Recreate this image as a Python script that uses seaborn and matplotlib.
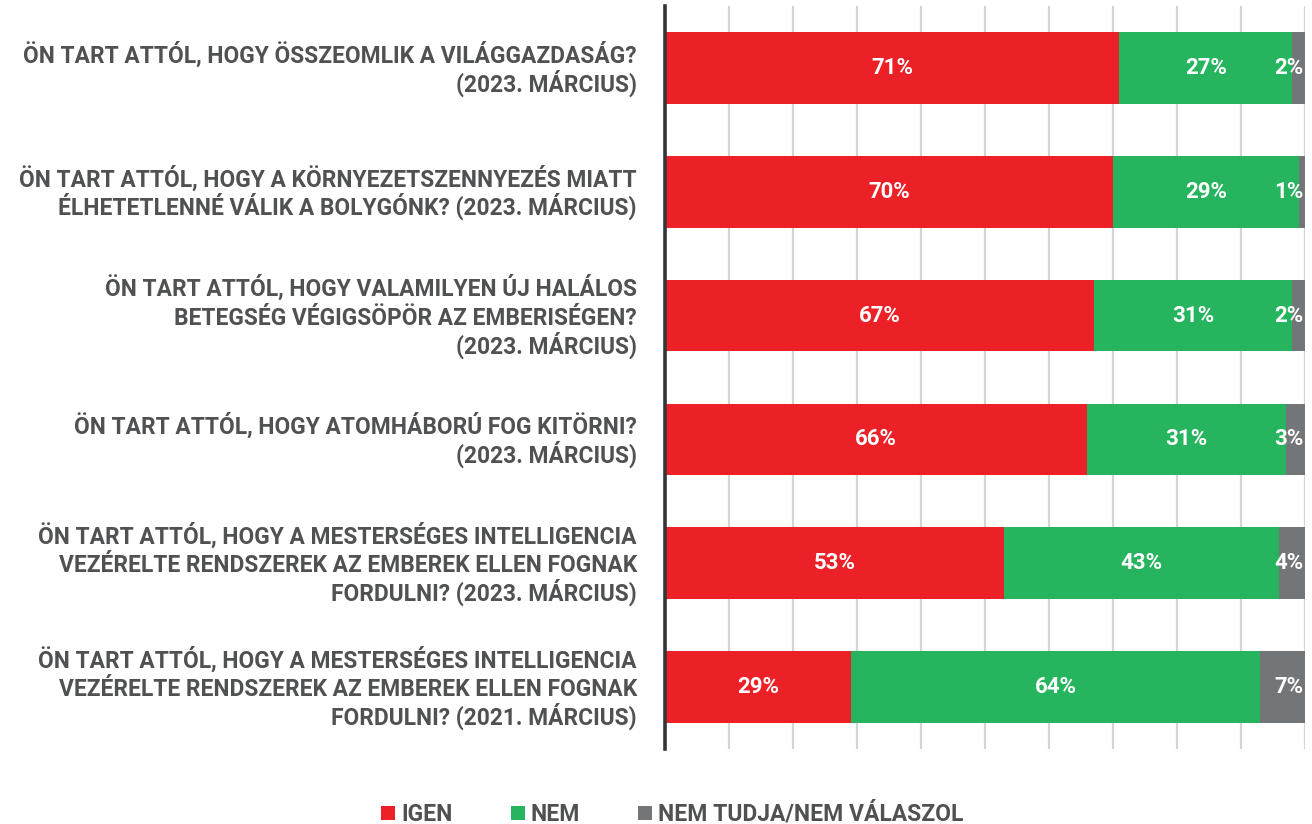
import matplotlib
matplotlib.use("Agg")
import matplotlib.pyplot as plt
import matplotlib.transforms as mtransforms
import seaborn as sns
import pandas as pd
import numpy as np
from matplotlib.patches import Patch

questions = [
    "ÖN TART ATTÓL, HOGY ÖSSZEOMLIK A VILÁGGAZDASÁG?\n(2023. MÁRCIUS)",
    "ÖN TART ATTÓL, HOGY A KÖRNYEZETSZENNYEZÉS MIATT\nÉLHETETLENNÉ VÁLIK A BOLYGÓNK? (2023. MÁRCIUS)",
    "ÖN TART ATTÓL, HOGY VALAMILYEN ÚJ HALÁLOS\nBETEGSÉG VÉGIGSÖPÖR AZ EMBERISÉGEN?\n(2023. MÁRCIUS)",
    "ÖN TART ATTÓL, HOGY ATOMHÁBORÚ FOG KITÖRNI?\n(2023. MÁRCIUS)",
    "ÖN TART ATTÓL, HOGY A MESTERSÉGES INTELLIGENCIA\nVEZÉRELTE RENDSZEREK AZ EMBEREK ELLEN FOGNAK\nFORDULNI? (2023. MÁRCIUS)",
    "ÖN TART ATTÓL, HOGY A MESTERSÉGES INTELLIGENCIA\nVEZÉRELTE RENDSZEREK AZ EMBEREK ELLEN FOGNAK\nFORDULNI? (2021. MÁRCIUS)",
]
igen = [71, 70, 67, 66, 53, 29]
nem = [27, 29, 31, 31, 43, 64]
nem_tudja = [2, 1, 2, 3, 4, 7]
series_names = ["IGEN", "NEM", "NEM TUDJA/NEM VÁLASZOL"]

RED = "#EC2027"
GREEN = "#27B45E"
GRAY = "#737679"
TEXT = "#4F5152"

sns.set_theme(style="white")
plt.rcParams["font.family"] = ["Roboto", "DejaVu Sans"]

df = pd.DataFrame({
    "q": questions,
    "igen": igen,
    "nem": nem,
    "nt": nem_tudja,
})
df["c1"] = df["igen"]
df["c2"] = df["igen"] + df["nem"]
df["c3"] = df["c2"] + df["nt"]

DPI = 100
fig = plt.figure(figsize=(13.12, 8.24), dpi=DPI)
ax = fig.add_axes([665 / 1312, 1 - 749 / 824, 640 / 1312, 743 / 824])

# stacked bars drawn as overlapping cumulative totals
for col, color in [("c3", GRAY), ("c2", GREEN), ("c1", RED)]:
    sns.barplot(data=df, x=col, y="q", orient="h", color=color, width=0.58,
                saturation=1, ax=ax, zorder=3, linewidth=0)

ax.set_xlim(0, 100)
ax.set_ylim(5.5, -0.5)
ax.set_xlabel("")
ax.set_ylabel("")
ax.set_xticks(np.arange(0, 101, 10))
ax.xaxis.grid(True, color="#D4D4D4", linewidth=1.6, zorder=0)
ax.yaxis.grid(False)
ax.tick_params(axis="x", length=0, labelbottom=False)
ax.tick_params(axis="y", length=0, labelleft=False)
for s in ["top", "right", "bottom"]:
    ax.spines[s].set_visible(False)
ax.spines["left"].set_color("#333638")
ax.spines["left"].set_linewidth(2.6)
ax.spines["left"].set_zorder(5)

# category labels: one text per line so the line pitch stays even
LABEL_SIZE = 16.4
line_pitch = 28.5          # px between lines
cap_half = 0.711 * LABEL_SIZE * DPI / 72 / 2
for i, q in enumerate(questions):
    lines = q.split("\n")
    n = len(lines)
    for k, line in enumerate(lines):
        dy = -((k - (n - 1) / 2) * line_pitch + 1 + cap_half)
        tr = ax.get_yaxis_transform() + mtransforms.ScaledTranslation(
            -28 / DPI, dy / DPI, fig.dpi_scale_trans)
        ax.text(0, i, line, transform=tr, ha="right", va="baseline",
                fontsize=LABEL_SIZE, fontweight="bold", color=TEXT)

val_font = dict(color="white", fontsize=16, fontweight="bold",
                va="center", zorder=6)
for i in range(len(questions)):
    ax.text(igen[i] / 2, i, f"{igen[i]}%", ha="center", **val_font)
    ax.text(igen[i] + nem[i] / 2, i, f"{nem[i]}%", ha="center", **val_font)
    ax.text(igen[i] + nem[i] + nem_tudja[i] - 0.2, i, f"{nem_tudja[i]}%",
            ha="right", **val_font)

handles = [Patch(facecolor=c, edgecolor="none") for c in (RED, GREEN, GRAY)]
leg = fig.legend(handles, series_names, loc="center", ncol=3,
                 bbox_to_anchor=(0.5125, 1 - 814 / 824), frameon=False,
                 handlelength=0.61, handleheight=0.57, handletextpad=0.26,
                 columnspacing=2.55, borderpad=0,
                 prop=dict(size=16.5, weight="bold"))
for t in leg.get_texts():
    t.set_color(TEXT)

fig.savefig("out.png", dpi=DPI)
